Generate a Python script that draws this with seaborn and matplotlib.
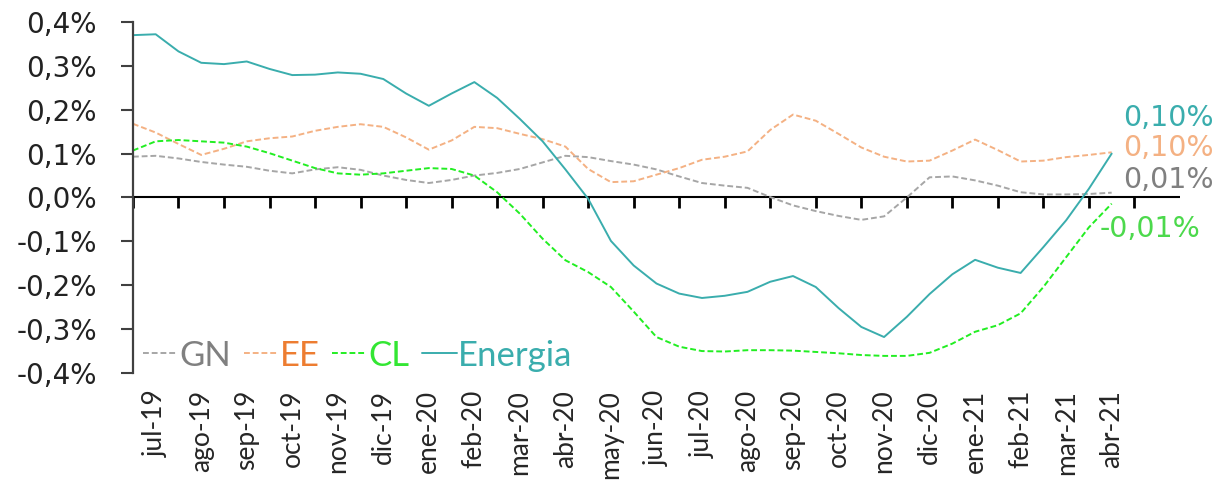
import numpy as np
import pandas as pd
import matplotlib.pyplot as plt
import seaborn as sns

# ------------------------------------------
# Data (variation, %), read every half month
# ------------------------------------------

months = ["jul-19", "ago-19", "sep-19", "oct-19", "nov-19", "dic-19",
          "ene-20", "feb-20", "mar-20", "abr-20", "may-20", "jun-20",
          "jul-20", "ago-20", "sep-20", "oct-20", "nov-20", "dic-20",
          "ene-21", "feb-21", "mar-21", "abr-21"]

gn = [0.093, 0.095, 0.089, 0.081, 0.075, 0.070, 0.061, 0.055, 0.064, 0.069,
      0.063, 0.050, 0.040, 0.033, 0.040, 0.050, 0.056, 0.065, 0.080, 0.095,
      0.092, 0.083, 0.075, 0.064, 0.048, 0.033, 0.027, 0.022, 0.001, -0.018,
      -0.031, -0.042, -0.051, -0.043, 0.000, 0.046, 0.048, 0.039, 0.027, 0.012,
      0.007, 0.007, 0.008, 0.011]

ee = [0.168, 0.148, 0.122, 0.097, 0.111, 0.128, 0.135, 0.139, 0.152, 0.161,
      0.167, 0.161, 0.137, 0.109, 0.130, 0.161, 0.158, 0.145, 0.133, 0.116,
      0.065, 0.035, 0.037, 0.052, 0.067, 0.086, 0.093, 0.105, 0.154, 0.189,
      0.175, 0.145, 0.114, 0.093, 0.082, 0.084, 0.107, 0.132, 0.108, 0.082,
      0.084, 0.092, 0.097, 0.103]

cl = [0.107, 0.128, 0.131, 0.128, 0.125, 0.116, 0.101, 0.084, 0.067, 0.055,
      0.052, 0.055, 0.061, 0.067, 0.065, 0.050, 0.012, -0.037, -0.094, -0.143,
      -0.170, -0.204, -0.260, -0.318, -0.340, -0.350, -0.351, -0.348, -0.348, -0.349,
      -0.352, -0.355, -0.359, -0.361, -0.361, -0.354, -0.333, -0.306, -0.291, -0.264,
      -0.204, -0.136, -0.068, -0.014]

energia = [0.370, 0.372, 0.333, 0.307, 0.304, 0.310, 0.293, 0.279, 0.280, 0.285,
           0.282, 0.270, 0.237, 0.209, 0.237, 0.263, 0.227, 0.179, 0.128, 0.064,
           -0.003, -0.099, -0.155, -0.196, -0.219, -0.229, -0.224, -0.215, -0.192, -0.179,
           -0.204, -0.252, -0.295, -0.318, -0.272, -0.220, -0.175, -0.142, -0.160, -0.172,
           -0.113, -0.052, 0.020, 0.100]

end_labels = {"GN": "0,01%", "EE": "0,10%", "CL": "-0,01%", "Energia": "0,10%"}

yticks = [-0.4, -0.3, -0.2, -0.1, 0.0, 0.1, 0.2, 0.3, 0.4]
ytick_labels = ["-0,4%", "-0,3%", "-0,2%", "-0,1%", "0,0%",
                "0,1%", "0,2%", "0,3%", "0,4%"]

x = np.arange(len(energia)) * 0.5

df = pd.DataFrame({"x": x, "GN": gn, "EE": ee, "CL": cl, "Energia": energia})

# ------------------------------------------
# Styles
# ------------------------------------------

line_colors = {"GN": "#A6A6A6", "EE": "#F4B183", "CL": "#22EE22", "Energia": "#3AADAD"}
text_colors = {"GN": "#808080", "EE": "#ED7D31", "CL": "#33E633", "Energia": "#3AADAD"}
end_colors = {"GN": "#808080", "EE": "#F4B183", "CL": "#4CD94C", "Energia": "#3AADAD"}
end_offsets = {"GN": (8, 9), "EE": (8, 3), "CL": (-9, -18), "Energia": (8, 26)}

sns.set_style("white")
plt.rcParams["font.family"] = ["DejaVu Sans"]

fig = plt.figure(figsize=(12.23, 4.8), dpi=100)
ax = fig.add_axes([0.1087, 0.2229, 0.8561, 0.7313])

for name in ["GN", "EE", "CL", "Energia"]:
    sns.lineplot(
        data=df,
        x="x",
        y=name,
        ax=ax,
        color=line_colors[name],
        linewidth=1.4,
        linestyle="-" if name == "Energia" else (0, (3, 1.5)),
        label=name,
    )
    ax.annotate(
        end_labels[name],
        xy=(df["x"].iloc[-1], df[name].iloc[-1]),
        xytext=end_offsets[name],
        textcoords="offset points",
        ha="left",
        va="center",
        fontsize=20.5,
        family="DejaVu Sans",
        color=end_colors[name],
    )

# ------------------------------------------
# Axes
# ------------------------------------------

ax.set_xlim(0, len(months) + 1)
ax.set_ylim(-0.4, 0.4)
ax.set_xlabel("")
ax.set_ylabel("")

ax.set_yticks(yticks)
ax.set_yticklabels(ytick_labels, fontsize=20, color="#222222", family="DejaVu Sans")
ax.tick_params(axis="y", direction="out", length=9, width=1.5, color="#404040", pad=17, left=True)

for s in ["top", "right", "bottom"]:
    ax.spines[s].set_visible(False)
ax.spines["left"].set_color("#404040")
ax.spines["left"].set_linewidth(1.6)

# category axis drawn at zero
ax.axhline(0, color="black", linewidth=1.5, zorder=1)
ax.set_xticks(np.arange(len(months) + 1))
ax.set_xticklabels([])
ax.tick_params(axis="x", which="major", length=0)
ax.vlines(np.arange(len(months) + 1), -0.023, 0, color="black", linewidth=2, zorder=1)

ax.set_xticks(np.arange(len(months)) + 0.5, minor=True)
ax.set_xticklabels(months, minor=True, rotation=90, fontsize=19, family=["Lato", "DejaVu Sans"])
ax.tick_params(axis="x", which="minor", length=0, pad=12)

leg = ax.legend(
    loc="lower left",
    bbox_to_anchor=(-0.02, -0.085),
    ncol=4,
    frameon=False,
    handlelength=1.0,
    handletextpad=0.05,
    columnspacing=0.35,
    prop={"family": ["Lato", "DejaVu Sans"], "size": 25},
)
for text in leg.get_texts():
    text.set_color(text_colors[text.get_text()])

plt.savefig("out.png", dpi=100)
